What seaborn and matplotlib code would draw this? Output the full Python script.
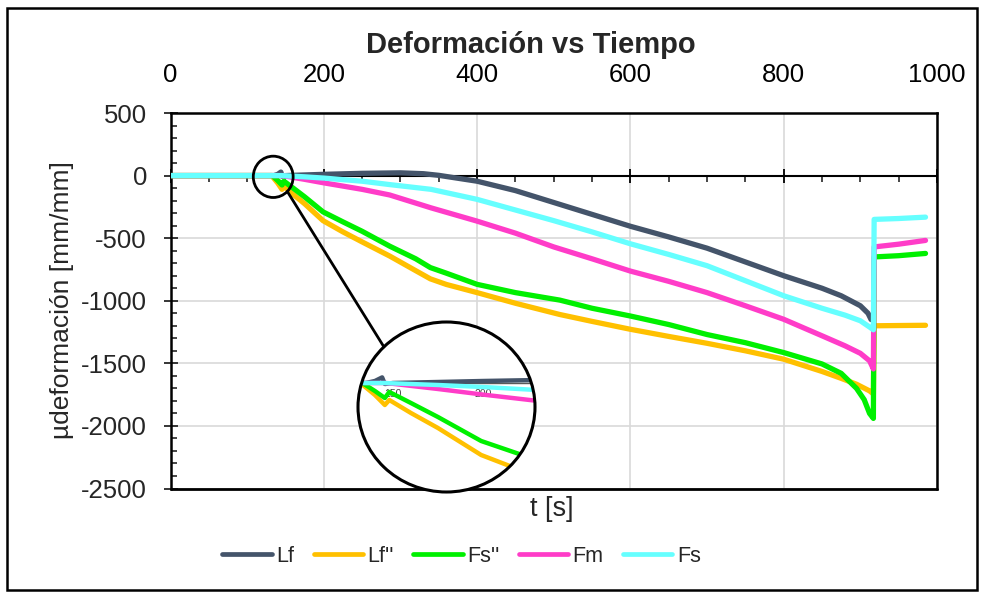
import matplotlib
matplotlib.use("Agg")
import numpy as np
import pandas as pd
import matplotlib.pyplot as plt
from matplotlib.patches import Ellipse, Rectangle, ConnectionPatch
from matplotlib.lines import Line2D
from matplotlib.ticker import MultipleLocator
import seaborn as sns

# ---- measured strain series (time in s, micro-strain) ----
series_names = ["Lf", "Lf''", "Fs''", "Fm", "Fs"]

t_lf = [0, 100, 135, 140, 144, 145.5, 150, 175, 200, 250, 300, 330, 350, 400, 450,
        500, 550, 600, 650, 700, 750, 800, 850, 875, 900, 910, 914]
v_lf = [0, 0, 0, 10, 28, -5, 0, 5, 10, 18, 22, 15, 2, -45, -120,
        -215, -310, -405, -490, -580, -690, -800, -900, -960, -1040, -1100, -1150]

t_lff = [0, 132, 140, 145.5, 148, 160, 175, 199, 225, 250, 286, 320, 339, 360, 400, 450,
         508, 550, 600, 650, 700, 750, 800, 850, 875, 895, 912, 917, 918, 950, 985]
v_lff = [0, 0, -60, -110, -85, -150, -225, -360, -450, -530, -643, -760, -825, -870, -935, -1020,
         -1110, -1165, -1228, -1285, -1340, -1400, -1467, -1565, -1620, -1667, -1720, -1745,
         -1200, -1198, -1196]

t_fss = [0, 133, 140, 145.5, 148, 160, 175, 199, 225, 250, 286, 320, 339, 360, 400, 450,
         508, 550, 600, 650, 700, 750, 800, 850, 875, 895, 905, 912, 917, 918, 950, 985]
v_fss = [0, 0, -40, -75, -45, -100, -170, -290, -370, -445, -564, -665, -735, -780, -869, -935,
         -995, -1060, -1122, -1190, -1270, -1335, -1414, -1505, -1580, -1700, -1790, -1900,
         -1940, -650, -640, -622]

t_fm = [0, 146, 175, 200, 250, 286, 340, 400, 450, 500, 550, 600, 650, 700, 750, 800,
        850, 880, 900, 912, 917, 918, 950, 985]
v_fm = [0, 0, -30, -58, -110, -155, -258, -364, -460, -570, -665, -763, -845, -935, -1040, -1148,
        -1280, -1360, -1420, -1480, -1545, -570, -548, -518]

t_fs = [0, 145, 175, 200, 250, 286, 340, 400, 450, 500, 550, 600, 650, 700, 750, 800,
        850, 880, 900, 912, 917, 918, 950, 985]
v_fs = [0, 0, -10, -20, -45, -72, -110, -190, -275, -360, -450, -545, -630, -720, -840, -960,
        -1060, -1115, -1160, -1210, -1232, -350, -343, -332]

colors = {"Lf": "#44546A", "Lf''": "#FFC000", "Fs''": "#00F000",
          "Fm": "#FF3CC8", "Fs": "#66FFFF"}

x_ticks = [0, 200, 400, 600, 800, 1000]
y_ticks = [500, 0, -500, -1000, -1500, -2000, -2500]

frames = []
for name, t, v in zip(series_names, [t_lf, t_lff, t_fss, t_fm, t_fs],
                      [v_lf, v_lff, v_fss, v_fm, v_fs]):
    frames.append(pd.DataFrame({"t": t, "v": v, "serie": name}))
df = pd.concat(frames, ignore_index=True)

sns.set_style("white")
plt.rcParams["font.family"] = ["Liberation Sans", "DejaVu Sans"]
plt.rcParams["axes.unicode_minus"] = False

W, H = 982, 594
fig = plt.figure(figsize=(W / 100, H / 100), dpi=100)

# ---- main axes ----
ax = fig.add_axes([170.5 / W, 1 - 488.5 / H, (937 - 170.5) / W, (488.5 - 113) / H])
sns.lineplot(data=df, x="t", y="v", hue="serie", hue_order=series_names, palette=colors,
             estimator=None, sort=False, lw=3.8, ax=ax, legend=False, zorder=3,
             solid_capstyle="round")
ax.set_xlim(0, 1000)
ax.set_ylim(-2500, 500)
ax.set_xticks(x_ticks)
ax.set_yticks(y_ticks)
ax.xaxis.set_minor_locator(MultipleLocator(50))
ax.yaxis.set_minor_locator(MultipleLocator(100))
ax.set_xlabel("")
ax.set_ylabel("")
ax.grid(True, which="major", color="#D9D9D9", lw=1.2)
ax.set_axisbelow(True)

ax.spines["bottom"].set_position(("data", 0))
ax.spines["bottom"].set_linewidth(1.5)
for s in ["top", "right", "left"]:
    ax.spines[s].set_visible(True)
    ax.spines[s].set_color("black")
    ax.spines[s].set_linewidth(1.8)
ax.spines["bottom"].set_color("black")
ax.axhline(-2500, color="black", lw=2.0, zorder=2.6, clip_on=False)

ax.tick_params(axis="x", which="major", direction="inout", length=10, width=1.3,
               bottom=True, top=False, labelbottom=False, labeltop=True,
               labelsize=18.5, pad=14, colors="black")
ax.tick_params(axis="x", which="minor", direction="out", length=4.5, width=1.2,
               bottom=True, top=False)
ax.tick_params(axis="y", which="major", direction="inout", length=10, width=1.3,
               left=True, right=False, labelsize=18.5, pad=12)
ax.tick_params(axis="y", which="minor", direction="in", length=4.5, width=1.2,
               left=True, right=False)

# ---- magnifier callout ----
mag_center = (134, -10)
mag_w, mag_h = 52, 330
ax.add_patch(Ellipse(mag_center, mag_w, mag_h, fill=False, ec="black", lw=2.0, zorder=6))

ax_in = fig.add_axes([358 / W, 1 - 492 / H, 177 / W, 170 / H])
lens = Ellipse((0.5, 0.5), 1, 1, transform=ax_in.transAxes, facecolor="white",
               edgecolor="none", zorder=0)
ax_in.add_patch(lens)
ax_in.patch.set_visible(False)
sns.lineplot(data=df, x="t", y="v", hue="serie", hue_order=series_names, palette=colors,
             estimator=None, sort=False, lw=3.2, ax=ax_in, legend=False, zorder=3)
for ln in ax_in.lines:
    ln.set_clip_path(lens)
ax_in.set_xlim(130.6, 228.9)
ax_in.set_ylim(-545, 305)
ax_in.set_xlabel("")
ax_in.set_ylabel("")
ax_in.set_yticks([])
ax_in.set_xticks([150, 200])
ax_in.xaxis.set_minor_locator(MultipleLocator(10))
for s in ["top", "right", "left"]:
    ax_in.spines[s].set_visible(False)
ax_in.spines["bottom"].set_position(("data", 0))
ax_in.spines["bottom"].set_color("#5A5A5A")
ax_in.spines["bottom"].set_linewidth(1.0)
ax_in.spines["bottom"].set_clip_path(lens)
ax_in.tick_params(axis="x", which="both", direction="out", length=2.5, width=0.8,
                  colors="#444444", labelsize=7.5, pad=1.5)
ax_in.add_patch(Ellipse((0.5, 0.5), 1, 1, transform=ax_in.transAxes, fill=False,
                        edgecolor="black", lw=2.2, zorder=5, clip_on=False))

ang = np.deg2rad(-45)
start = (mag_center[0] + mag_w / 2 * np.cos(ang), mag_center[1] + mag_h / 2 * np.sin(ang))
end = (0.5 + 0.5 * np.cos(np.deg2rad(135)), 0.5 + 0.5 * np.sin(np.deg2rad(135)))
fig.add_artist(ConnectionPatch(xyA=start, coordsA=ax.transData, xyB=end,
                               coordsB=ax_in.transAxes, color="black", lw=2.0, zorder=6))

# ---- texts ----
fig.text(531 / W, 1 - 45 / H, "Deformación vs Tiempo", ha="center", va="center",
         fontsize=21, fontweight="bold")
fig.text(552 / W, 1 - 509 / H, "t [s]", ha="center", va="center", fontsize=19.5)
fig.text(62 / W, 1 - 300 / H, "µdeformación [mm/mm]", ha="center", va="center",
         rotation=90, fontsize=19)

handles = [Line2D([0], [0], color=colors[n], lw=3.4, solid_capstyle="round")
           for n in series_names]
fig.legend(handles, series_names, loc="center", bbox_to_anchor=(461.5 / W, 1 - 556.5 / H),
           ncol=5, frameon=False, fontsize=15.5, handlelength=2.3, handletextpad=0.2,
           columnspacing=0.9)

# chart border
fig.add_artist(Rectangle((7 / W, 1 - 590 / H), (977 - 7) / W, (590 - 8) / H,
                         transform=fig.transFigure, fill=False, ec="black", lw=1.8))

fig.savefig("out.png", dpi=100)
